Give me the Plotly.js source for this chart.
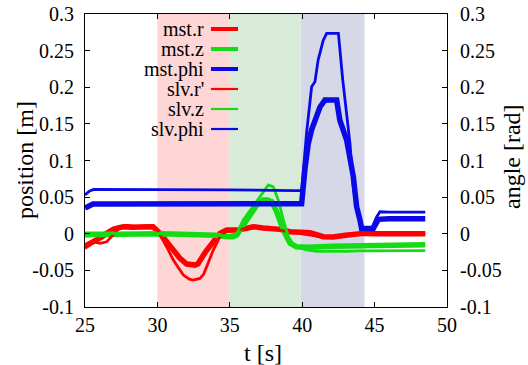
<!DOCTYPE html>
<html>
<head>
<meta charset="utf-8">
<script src="https://cdn.plot.ly/plotly-3.0.1.min.js"></script>
</head>
<body style="margin:0">
<div id="plot"></div>
<script>
// ---- data ----
const phaseStart = [30, 35, 39.9];
const phaseEnd   = [35, 39.9, 44.3];

const mstR_t = [25, 25.4, 25.8, 26.2, 26.5, 26.95, 27.3, 27.65, 28.2, 28.8, 29.3, 29.7, 30.18, 30.5, 30.87, 31.2, 31.56, 32.02, 32.6, 32.8, 33.06, 33.35, 33.63, 34.0, 34.32, 34.78, 35.5, 36.17, 36.6, 37.3, 38.47, 39.16, 40.54, 41.46, 42.15, 43.0, 44.2, 45.5, 47, 48.5];
const mstR_y = [-0.017, -0.013, -0.0086, -0.004, 0.0005, 0.006, 0.008, 0.0096, 0.009, 0.009, 0.0095, 0.0095, 0.0005, -0.008, -0.0177, -0.026, -0.0336, -0.0414, -0.0428, -0.041, -0.0314, -0.024, -0.0168, -0.008, 0.0005, 0.005, 0.005, 0.0074, 0.0096, 0.008, 0.006, 0.0027, 0.0014, -0.004, -0.0045, -0.002, 0.0005, 0.0, 0.0, 0.0];

const mstZ_t = [25, 26, 27, 28, 29, 30, 31, 32, 33, 34, 34.78, 35.2, 35.47, 35.93, 36.4, 36.86, 37.3, 37.6, 37.9, 38.24, 38.7, 39.16, 39.6, 40.5, 42, 44, 46, 48.5];
const mstZ_y = [-0.0015, -0.001, 0.0, 0.0005, 0.0005, 0.0, -0.0005, -0.0005, -0.0005, -0.002, -0.004, -0.004, -0.002, 0.012, 0.028, 0.039, 0.046, 0.046, 0.0437, 0.03, 0.005, -0.013, -0.0177, -0.0186, -0.017, -0.016, -0.0155, -0.015];

const mstPhi_t = [25, 25.3, 25.55, 26.5, 30, 35, 39.5, 39.96, 40.2, 40.42, 40.65, 40.88, 41.23, 41.57, 42.38, 42.6, 43.07, 43.53, 43.76, 43.99, 44.1, 44.9, 45.1, 45.26, 46, 48.5];
const mstPhi_y = [0.035, 0.038, 0.0405, 0.0405, 0.041, 0.041, 0.0405, 0.041, 0.09, 0.123, 0.142, 0.155, 0.173, 0.1825, 0.1825, 0.155, 0.128, 0.078, 0.037, 0.0187, 0.0074, 0.007, 0.013, 0.0197, 0.0205, 0.0205];

const slvR_t = [25, 25.3, 25.57, 26.04, 26.5, 26.95, 27.42, 27.88, 28.5, 29.2, 29.7, 30.05, 30.4, 30.75, 31.1, 31.45, 31.79, 32.2, 32.48, 32.94, 33.2, 33.4, 33.86, 34.32, 34.78, 35.5, 36.2, 36.6, 37.5, 38.5, 39.5, 40.5, 41.5, 42.5, 43.5, 44.5, 46, 48.5];
const slvR_y = [-0.02, -0.016, -0.011, -0.013, -0.011, -0.0018, 0.0087, 0.0115, 0.01, 0.011, 0.01, 0.003, -0.0086, -0.022, -0.036, -0.047, -0.0564, -0.062, -0.0632, -0.061, -0.055, -0.045, -0.0223, -0.004, 0.003, 0.005, 0.008, 0.01, 0.008, 0.005, 0.002, -0.002, -0.005, -0.004, -0.001, 0.0, 0.0, 0.0];

const slvZ_t = [25, 26, 27, 28, 29, 30, 31, 32, 33, 34, 34.8, 35.47, 35.93, 36.6, 37.2, 37.66, 38.0, 38.35, 38.7, 39.04, 39.5, 40.3, 41, 42, 43, 44, 46, 48.5];
const slvZ_y = [0.001, 0.001, 0.001, 0.001, 0.0, 0.0, 0.0, -0.001, -0.001, -0.002, -0.003, 0.0, 0.0187, 0.037, 0.055, 0.0665, 0.064, 0.046, 0.0187, -0.004, -0.0177, -0.022, -0.024, -0.0245, -0.024, -0.0235, -0.023, -0.023];

const slvPhi_t = [25, 25.3, 25.6, 26.5, 30, 35, 39.5, 39.96, 40.3, 40.65, 40.88, 41.1, 41.45, 41.69, 42.5, 42.61, 42.8, 42.96, 43.3, 43.53, 43.76, 43.99, 44.2, 44.8, 45.14, 45.37, 46, 48.5];
const slvPhi_y = [0.053, 0.058, 0.0606, 0.0606, 0.0605, 0.06, 0.059, 0.059, 0.137, 0.2007, 0.2075, 0.237, 0.264, 0.2736, 0.2736, 0.246, 0.21, 0.1825, 0.123, 0.064, 0.032, 0.014, 0.0074, 0.0074, 0.023, 0.03, 0.0295, 0.0295];

const seriesNames = ["mst.r", "mst.z", "mst.phi", "slv.r'", "slv.z", "slv.phi"];
const xTickVals = [25, 30, 35, 40, 45, 50];
const yTickVals = [-0.1, -0.05, 0, 0.05, 0.1, 0.15, 0.2, 0.25, 0.3];
const yTickText = ["-0.1", "-0.05", "0", "0.05", "0.1", "0.15", "0.2", "0.25", "0.3"];
const xTitle = "t [s]", yTitle = "position [m]", y2Title = "angle [rad]";

// ---- styles ----
const RED = "#ff0000", GREEN = "#14dc14", BLUE = "#0a0ae6";
const colors = [RED, GREEN, BLUE, RED, GREEN, BLUE];
const widths = [5.5, 5.5, 5.5, 2.8, 2.8, 2.8];
const bandColors = ["rgb(255,214,214)", "rgb(216,234,216)", "rgb(214,216,232)"];
const FONT = "Liberation Serif";

const xs = [mstR_t, mstZ_t, mstPhi_t, slvR_t, slvZ_t, slvPhi_t];
const ys = [mstR_y, mstZ_y, mstPhi_y, slvR_y, slvZ_y, slvPhi_y];
const onY2 = [false, false, true, false, false, true];

const traces = seriesNames.map((n, i) => ({
  x: xs[i], y: ys[i], name: n, type: "scatter", mode: "lines",
  yaxis: onY2[i] ? "y2" : "y",
  line: {color: colors[i], width: widths[i], shape: "linear"},
  showlegend: false, hoverinfo: "skip"
}));

const shapes = phaseStart.map((s, i) => ({
  type: "rect", xref: "x", yref: "paper", x0: s, x1: phaseEnd[i], y0: 0, y1: 1,
  fillcolor: bandColors[i], line: {width: 0}, layer: "below"
}));

const annotations = [];
const plotL = 85, plotR = 447, plotT = 14, plotB = 307;
const px2x = px => (px - plotL) / (plotR - plotL);
const py2y = py => (plotB - py) / (plotB - plotT);

// legend (gnuplot style: right-aligned text, sample to the right)
seriesNames.forEach((n, i) => {
  const py = 29 + 20 * i;
  annotations.push({
    xref: "paper", yref: "paper", x: px2x(206), y: py2y(py), xanchor: "right", yanchor: "middle",
    text: n, showarrow: false, font: {family: FONT, size: 20, color: "black"}
  });
  shapes.push({
    type: "line", xref: "paper", yref: "paper", x0: px2x(211), x1: px2x(238), y0: py2y(py), y1: py2y(py),
    line: {color: colors[i], width: i < 3 ? 4 : 2.2}
  });
});

// axis titles
const titleFont = {family: FONT, size: 24, color: "black"};
annotations.push({xref: "paper", yref: "paper", x: px2x(263), y: py2y(353), xanchor: "center", yanchor: "middle",
  text: xTitle, showarrow: false, font: titleFont});
annotations.push({xref: "paper", yref: "paper", x: px2x(25), y: py2y(160), xanchor: "center", yanchor: "middle",
  text: yTitle, textangle: -90, showarrow: false, font: titleFont});
annotations.push({xref: "paper", yref: "paper", x: px2x(512), y: py2y(157), xanchor: "center", yanchor: "middle",
  text: y2Title, textangle: -90, showarrow: false, font: titleFont});

const axisCommon = {
  showgrid: false, zeroline: false, showline: true, linecolor: "black", linewidth: 1,
  ticks: "inside", ticklen: 5, tickcolor: "black", tickwidth: 1,
  tickfont: {family: FONT, size: 20, color: "black"}
};

const layout = {
  width: 528, height: 365,
  margin: {l: plotL, r: 528 - plotR, t: plotT, b: 365 - plotB},
  paper_bgcolor: "white", plot_bgcolor: "rgba(0,0,0,0)",
  showlegend: false,
  font: {family: FONT, color: "black"},
  xaxis: Object.assign({}, axisCommon, {
    range: [25, 50], tickmode: "array", tickvals: xTickVals, ticktext: xTickVals.map(String),
    mirror: "ticks", ticklabelstandoff: 0
  }),
  yaxis: Object.assign({}, axisCommon, {
    range: [-0.1, 0.3], tickmode: "array", tickvals: yTickVals, ticktext: yTickText,
    ticklabelstandoff: 6
  }),
  yaxis2: Object.assign({}, axisCommon, {
    range: [-0.1, 0.3], tickmode: "array", tickvals: yTickVals, ticktext: yTickText,
    overlaying: "y", side: "right", ticklabelstandoff: 8
  }),
  shapes: shapes,
  annotations: annotations
};

Plotly.newPlot("plot", traces, layout, {displayModeBar: false});
</script>
</body>
</html>
